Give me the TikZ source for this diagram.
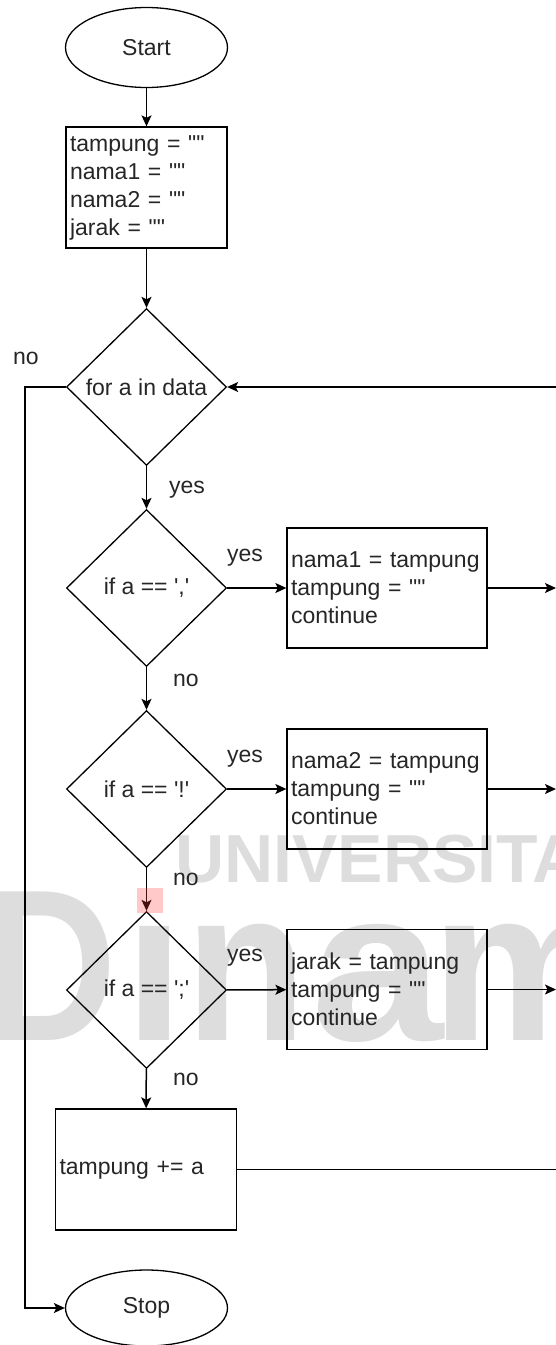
\documentclass[tikz,border=0pt]{standalone}
\usepackage{fontspec}
\usepackage{graphicx}
\newfontfamily\dfont{Liberation Sans}
\usetikzlibrary{shapes.geometric,arrows.meta}
\definecolor{wm}{RGB}{221,221,221}
\definecolor{wmred}{RGB}{255,60,60}
\definecolor{txt}{RGB}{38,38,38}
\begin{document}
\begin{tikzpicture}[x=1pt,y=-1pt,
  every node/.style={font=\dfont\fontsize{23}{28}\selectfont, text=txt},
  flow/.style={line width=1.5pt, draw=black},
  arr/.style={flow, -{Stealth[length=11pt,width=10pt,inset=2.5pt]}},
  term/.style={ellipse, draw, line width=1.3pt, minimum width=162pt, minimum height=80pt, inner sep=0pt},
  proc/.style={rectangle, draw, line width=1.3pt, inner xsep=4pt, inner ysep=0pt, align=left},
  dec/.style={diamond, draw, line width=1.3pt, minimum width=160pt, minimum height=157pt, inner sep=0pt, aspect=1},
  lbl/.style={inner sep=0pt},
  wmtext/.style={inner sep=0pt, text=wm, anchor=base},
  wmbig/.style={wmtext, font=\dfont\bfseries\fontsize{216}{216}\selectfont},
]
\useasboundingbox (0,0) rectangle (556,1345);
\clip (0,0) rectangle (556,1345);

% watermark
\node[wmtext, anchor=base west, font=\dfont\bfseries\fontsize{68}{68}\selectfont] (wm1) at (175,882) {UNIVERSITA};
\node[wmbig] (wmD) at (51,1040) {\scalebox{0.85}[1]{D}};
\node[wmbig] (wmi) at (154.5,1040) {ı};
\node[wmbig] (wmn) at (246.5,1040) {\scalebox{0.92}[1]{n}};
\node[wmbig] (wma) at (377.5,1040) {\scalebox{1.1}[1]{a}};
\node[wmbig] (wmm) at (528,1040) {m};

% nodes
\node[term] (start) at (146.5,47.5) {Start};
\node[proc, minimum width=161pt, text width=153pt, minimum height=121pt] (init) at (146.5,187.5)
  {tampung = ""\\nama1 = ""\\nama2 = ""\\jarak = ""};
\node[dec] (d1) at (146.5,387) {for a in data};
\node[dec] (d2) at (146.5,588) {if a == ','};
\node[proc, minimum width=200pt, text width=192pt, minimum height=120pt] (b2) at (387,588)
  {nama1 = tampung\\tampung = ""\\continue};
\node[dec] (d3) at (146.5,789) {if a == '!'};
\node[proc, minimum width=200pt, text width=192pt, minimum height=120pt] (b3) at (387,789)
  {nama2 = tampung\\tampung = ""\\continue};
\node[dec] (d4) at (146.5,990) {if a == ';'};
\node[proc, minimum width=200pt, text width=192pt, minimum height=120pt] (b4) at (387,989.5)
  {jarak = tampung\\tampung = ""\\continue};
\node[proc, minimum width=181pt, text width=173pt, minimum height=121pt] (b5) at (146,1169.5)
  {tampung += a};
\node[term, minimum height=76pt] (stop) at (146.5,1308) {Stop};

% labels
\node[lbl] (n1) at (26,358) {no};
\node[lbl] (y1) at (187,490) {yes};
\node[lbl] (y2) at (245,558) {yes};
\node[lbl] (n2) at (186,680) {no};
\node[lbl] (y3) at (245,759) {yes};
\node[lbl] (n3) at (186,879) {no};
\node[lbl] (y4) at (245,958) {yes};
\node[lbl] (n4) at (186,1079) {no};

% connectors
\coordinate (e1) at (556,387);
\coordinate (e2) at (556,588);
\coordinate (e3) at (556,789);
\coordinate (e4) at (556,989.5);
\coordinate (e5) at (556,1169.5);
\coordinate (lx) at (25,0);

\draw[arr] (start) -- (init);
\draw[arr] (init) -- (d1);
\draw[arr] (d1) -- (d2);
\draw[arr] (d2) -- (d3);
\draw[arr] (d3) -- (d4);
\draw[arr] (d4) -- (b5);
\draw[arr] (d2) -- (b2);
\draw[arr] (d3) -- (b3);
\draw[arr] (d4) -- (b4);
\draw[arr] (b2) -- (e2);
\draw[arr] (b3) -- (e3);
\draw[arr] (b4) -- (e4);
\draw[flow] (b5) -- (e5);
\draw[arr] (e1) -- (d1);
\draw[arr] (d1.west) -- (d1.west -| lx) -- (lx |- stop.west) -- (stop.west);

% red dot of the watermark's i
\fill[wmred, fill opacity=0.28] (137,888) rectangle (163,913);
\end{tikzpicture}
\end{document}
